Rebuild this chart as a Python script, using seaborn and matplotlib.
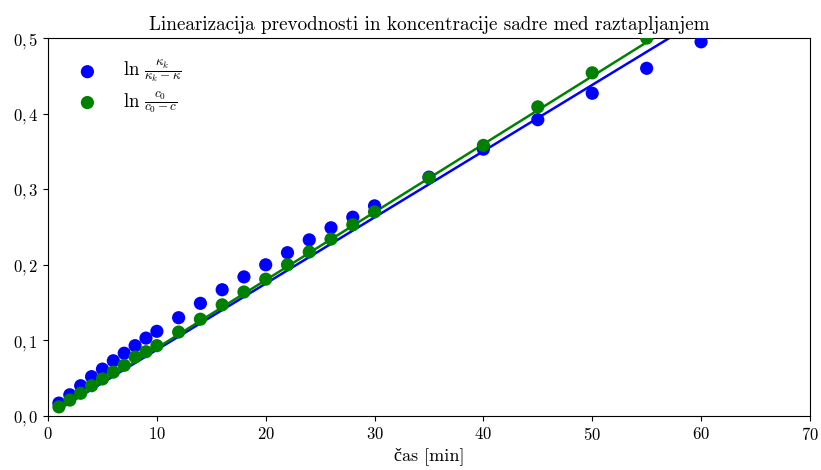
import numpy as np
import pandas as pd
import matplotlib
matplotlib.use("Agg")
import matplotlib.pyplot as plt
import seaborn as sns
from matplotlib.ticker import FuncFormatter

# data
t_kappa = [1, 2, 3, 4, 5, 6, 7, 8, 9, 10, 12, 14, 16, 18, 20, 22, 24, 26, 28, 30, 35, 40, 45, 50, 55, 60]
ln_kappa = [0.017, 0.028, 0.040, 0.052, 0.062, 0.073, 0.083, 0.093, 0.103, 0.112, 0.130, 0.149, 0.167,
            0.184, 0.200, 0.216, 0.233, 0.249, 0.263, 0.278, 0.316, 0.353, 0.392, 0.427, 0.460, 0.495]
t_c = [1, 2, 3, 4, 5, 6, 7, 8, 9, 10, 12, 14, 16, 18, 20, 22, 24, 26, 28, 30, 35, 40, 45, 50, 55]
ln_c = [0.012, 0.021, 0.030, 0.040, 0.049, 0.058, 0.067, 0.078, 0.085, 0.093, 0.111, 0.128, 0.147,
        0.164, 0.181, 0.200, 0.217, 0.234, 0.253, 0.270, 0.315, 0.358, 0.409, 0.454, 0.500]
# slopes of the fitted lines (through origin)
k_kappa = 0.00876
k_c = 0.00899

label_kappa = r"$\ln\,\frac{\kappa_k}{\kappa_k-\kappa}$"
label_c = r"$\ln\,\frac{c_0}{c_0-c}$"

plt.rcParams["font.family"] = ["cmr10", "Liberation Serif"]
plt.rcParams["mathtext.fontset"] = "cm"
plt.rcParams["axes.formatter.use_mathtext"] = True

fig = plt.figure(figsize=(8.21, 4.70), dpi=100)
ax = fig.add_axes([0.0585, 0.115, 0.928, 0.804])

df_k = pd.DataFrame({"t": t_kappa, "y": ln_kappa})
df_c = pd.DataFrame({"t": t_c, "y": ln_c})
line_t = np.array([min(t_kappa), max(t_kappa)])

sns.lineplot(x=line_t, y=k_kappa * line_t, color="blue", lw=1.8, ax=ax)
sns.lineplot(x=line_t, y=k_c * line_t, color="green", lw=1.8, ax=ax)
sns.scatterplot(data=df_k, x="t", y="y", color="blue", s=90, edgecolor="none",
                label=label_kappa, ax=ax, zorder=3)
sns.scatterplot(data=df_c, x="t", y="y", color="green", s=90, edgecolor="none",
                label=label_c, ax=ax, zorder=3)

ax.set_xlim(0, 70)
ax.set_ylim(0, 0.5)
ax.set_xticks(range(0, 71, 10))
ax.set_yticks(np.arange(0, 0.51, 0.1))
ax.xaxis.set_major_formatter(FuncFormatter(lambda v, p: f"${v:.0f}$"))
ax.yaxis.set_major_formatter(FuncFormatter(lambda v, p: "$" + f"{v:.1f}".replace(".", ",") + "$"))
ax.tick_params(labelsize=12)

ax.set_title("Linearizacija prevodnosti in koncentracije sadre med raztapljanjem", fontsize=13.8)
ax.set_xlabel("čas [min]", fontsize=13, labelpad=3)
ax.set_ylabel("")

ax.legend(loc="upper left", frameon=False, fontsize=13.5, handletextpad=0.9,
          borderaxespad=0.7, labelspacing=0.25, markerscale=1.0)

fig.savefig("out.png", dpi=100)
